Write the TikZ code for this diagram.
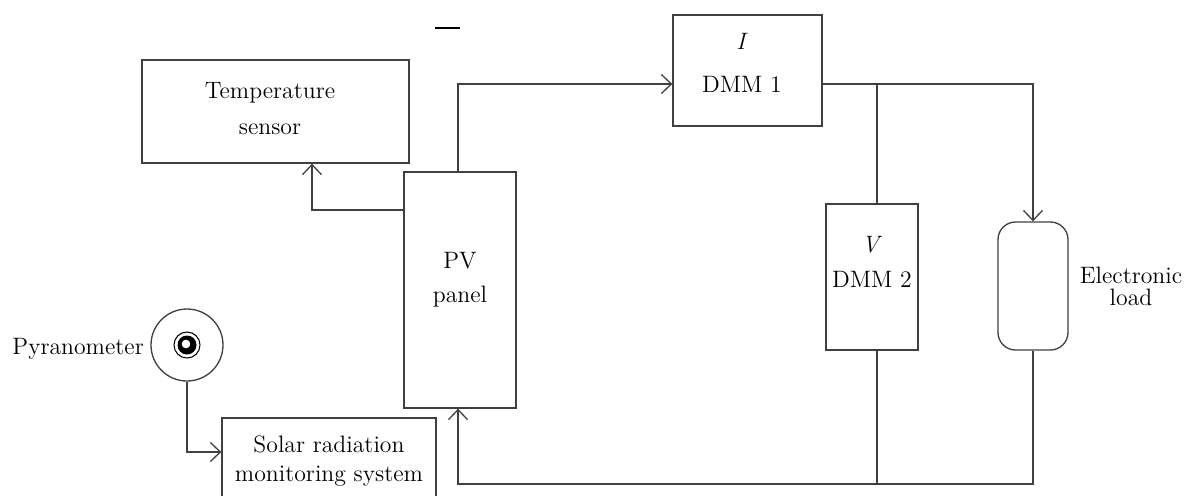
\documentclass[tikz,border=0pt]{standalone}
\usetikzlibrary{arrows.meta}
\begin{document}
\begin{tikzpicture}[x=0.02cm,y=-0.02cm,
  every node/.style={font=\fontsize{13.5}{16.5}\selectfont, text=black},
  blk/.style={draw=black!75, line width=0.75pt, inner sep=0pt},
  wire/.style={draw=black!75, line width=0.75pt},
  arr/.style={wire, -{Straight Barb[length=2mm,width=3.8mm,line width=0.75pt]}}]
\useasboundingbox (0,0) rectangle (1190,495);
\clip (0,0) rectangle (1190,495);
% boxes
\node[blk, minimum width=267*0.02cm, minimum height=103*0.02cm] (temp) at (275.5,111.5) {};
\node[align=center] (templab) at (270,109) {Temperature\\[4pt]sensor};
\node[blk, minimum width=112*0.02cm, minimum height=236*0.02cm] (pv) at (460,290) {};
\node[align=center] (pvlab) at (460,280) {PV\\[3pt]panel};
\node[blk, minimum width=149*0.02cm, minimum height=111*0.02cm] (dmma) at (747.5,70.5) {};
\node[align=center] (dmmalab) at (742,63) {\textit{I}\\[8pt]DMM 1};
\node[blk, minimum width=92*0.02cm, minimum height=146*0.02cm] (dmmb) at (872,277) {};
\node[align=center] (dmmblab) at (872,262) {\textit{V}\\[3pt]DMM 2};
\node[blk, rounded corners=10pt, minimum width=70*0.02cm, minimum height=128*0.02cm] (load) at (1033,286) {};
\node[align=center] (loadlab) at (1131,286) {Electronic\\[-4pt]load};
\node[blk, minimum width=214*0.02cm, minimum height=120*0.02cm] (solar) at (329,478) {};
\node[align=center] (solarlab) at (329,461) {Solar radiation\\monitoring system};
% pyranometer
\node[draw=black!75, line width=0.75pt, circle, minimum size=72*0.02cm, inner sep=0pt] (pyr) at (187,345) {};
\draw[line width=0.6pt] (pyr.center) circle[radius=13];
\fill[black] (pyr.center) circle[radius=9.5];
\fill[white] ([shift={(-1,-1)}]pyr.center) circle[radius=4.3];
\node[anchor=east] (pyrlab) at (150,349) {Pyranometer};
% stray bar
\node[inner sep=0pt] (bar) at (447,28) {\rule{0.5cm}{1.1pt}};
% connectors
\coordinate (b1) at (187,452);
\draw[arr] (pyr.south) -- (b1) -- (solar.west |- b1);
\coordinate (c1) at (458,84);
\draw[arr] (pv.north -| c1) -- (c1) -- (dmma.west |- c1);
\coordinate (c2) at (312,210);
\draw[arr] (pv.west |- c2) -- (c2) -- (c2 |- temp.south);
\coordinate (c3) at (1033,84);
\draw[arr] (dmma.east |- c3) -- (c3) -- (load.north);
\coordinate (j1) at (877,84);
\draw[wire] (j1) -- (j1 |- dmmb.north);
\coordinate (c4) at (1033,484);
\coordinate (c5) at (458,484);
\draw[arr] (load.south) -- (c4) -- (c5) -- (c5 |- pv.south);
\draw[wire] (j1 |- dmmb.south) -- (j1 |- c4);
\end{tikzpicture}
\end{document}
